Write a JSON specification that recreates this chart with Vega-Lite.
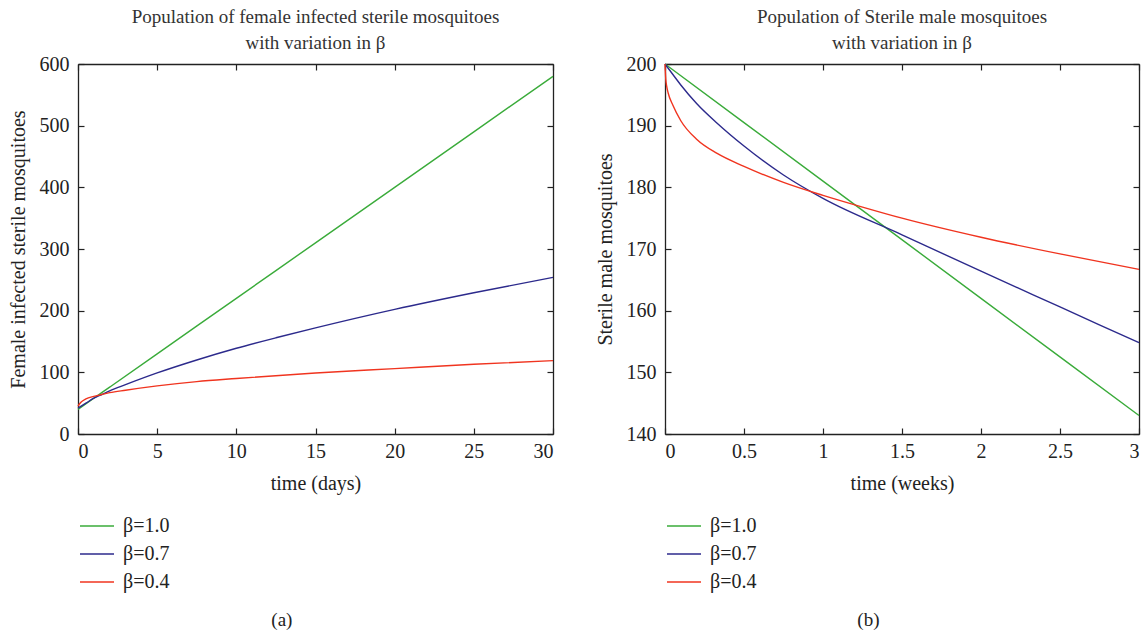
{
  "$schema": "https://vega.github.io/schema/vega-lite/v6.json",
  "background": "white",
  "padding": {"left": 8, "top": 8, "right": 5, "bottom": 5},
  "resolve": {"scale": {"color": "independent"}, "legend": {"color": "independent"}},
  "config": {
    "view": {"stroke": null},
    "font": "Liberation Serif",
    "axis": {
      "grid": false,
      "domainColor": "#222",
      "domainWidth": 1.3,
      "tickColor": "#222",
      "tickWidth": 1.2,
      "tickSize": -6,
      "labelFont": "Liberation Serif",
      "labelFontSize": 20,
      "labelColor": "#222",
      "titleFont": "Liberation Serif",
      "titleFontSize": 20,
      "titleFontWeight": "normal",
      "titleColor": "#222"
    },
    "legend": {
      "labelFont": "Liberation Serif",
      "labelFontSize": 20,
      "labelColor": "#222",
      "symbolType": "stroke",
      "symbolSize": 1156,
      "symbolStrokeWidth": 1.5,
      "labelOffset": 8,
      "rowPadding": -5,
      "padding": 0
    },
    "title": {
      "font": "Liberation Serif",
      "fontSize": 19,
      "fontWeight": "normal",
      "color": "#333",
      "lineHeight": 26
    },
    "concat": {"spacing": 39}
  },
  "datasets": {
    "a": [
      {"t": 0, "v": 40, "beta": "β=1.0"},
      {"t": 1, "v": 58, "beta": "β=1.0"},
      {"t": 2, "v": 76, "beta": "β=1.0"},
      {"t": 5, "v": 130, "beta": "β=1.0"},
      {"t": 10, "v": 220, "beta": "β=1.0"},
      {"t": 15, "v": 310, "beta": "β=1.0"},
      {"t": 20, "v": 400, "beta": "β=1.0"},
      {"t": 25, "v": 490, "beta": "β=1.0"},
      {"t": 30, "v": 580, "beta": "β=1.0"},
      {"t": 0, "v": 42, "beta": "β=0.7"},
      {"t": 0.5, "v": 50, "beta": "β=0.7"},
      {"t": 1, "v": 58, "beta": "β=0.7"},
      {"t": 1.5, "v": 64, "beta": "β=0.7"},
      {"t": 2, "v": 70, "beta": "β=0.7"},
      {"t": 3, "v": 80, "beta": "β=0.7"},
      {"t": 5, "v": 99, "beta": "β=0.7"},
      {"t": 7.5, "v": 120, "beta": "β=0.7"},
      {"t": 10, "v": 139, "beta": "β=0.7"},
      {"t": 12.5, "v": 156, "beta": "β=0.7"},
      {"t": 15, "v": 172, "beta": "β=0.7"},
      {"t": 20, "v": 202, "beta": "β=0.7"},
      {"t": 25, "v": 229, "beta": "β=0.7"},
      {"t": 30, "v": 254, "beta": "β=0.7"},
      {"t": 0, "v": 45, "beta": "β=0.4"},
      {"t": 0.1, "v": 49, "beta": "β=0.4"},
      {"t": 0.2, "v": 52, "beta": "β=0.4"},
      {"t": 0.5, "v": 57, "beta": "β=0.4"},
      {"t": 1, "v": 61, "beta": "β=0.4"},
      {"t": 1.5, "v": 64, "beta": "β=0.4"},
      {"t": 2, "v": 67, "beta": "β=0.4"},
      {"t": 3, "v": 71, "beta": "β=0.4"},
      {"t": 5, "v": 78, "beta": "β=0.4"},
      {"t": 7.5, "v": 85, "beta": "β=0.4"},
      {"t": 10, "v": 90, "beta": "β=0.4"},
      {"t": 15, "v": 99, "beta": "β=0.4"},
      {"t": 20, "v": 106, "beta": "β=0.4"},
      {"t": 25, "v": 113, "beta": "β=0.4"},
      {"t": 30, "v": 119, "beta": "β=0.4"}
    ],
    "b": [
      {"t": 0, "v": 200, "beta": "β=1.0"},
      {"t": 1, "v": 181, "beta": "β=1.0"},
      {"t": 2, "v": 162, "beta": "β=1.0"},
      {"t": 3, "v": 143, "beta": "β=1.0"},
      {"t": 0, "v": 200, "beta": "β=0.7"},
      {"t": 0.05, "v": 198.3, "beta": "β=0.7"},
      {"t": 0.1, "v": 196.6, "beta": "β=0.7"},
      {"t": 0.2, "v": 193.6, "beta": "β=0.7"},
      {"t": 0.33, "v": 190.4, "beta": "β=0.7"},
      {"t": 0.5, "v": 186.7, "beta": "β=0.7"},
      {"t": 0.75, "v": 182, "beta": "β=0.7"},
      {"t": 1, "v": 178.2, "beta": "β=0.7"},
      {"t": 1.5, "v": 172.3, "beta": "β=0.7"},
      {"t": 2, "v": 166.4, "beta": "β=0.7"},
      {"t": 2.5, "v": 160.6, "beta": "β=0.7"},
      {"t": 3, "v": 154.8, "beta": "β=0.7"},
      {"t": 0, "v": 200, "beta": "β=0.4"},
      {"t": 0.005, "v": 197.5, "beta": "β=0.4"},
      {"t": 0.01, "v": 196.5, "beta": "β=0.4"},
      {"t": 0.02, "v": 195.3, "beta": "β=0.4"},
      {"t": 0.05, "v": 193.3, "beta": "β=0.4"},
      {"t": 0.1, "v": 190.8, "beta": "β=0.4"},
      {"t": 0.2, "v": 187.8, "beta": "β=0.4"},
      {"t": 0.33, "v": 185.5, "beta": "β=0.4"},
      {"t": 0.5, "v": 183.4, "beta": "β=0.4"},
      {"t": 0.75, "v": 180.8, "beta": "β=0.4"},
      {"t": 1, "v": 178.7, "beta": "β=0.4"},
      {"t": 1.25, "v": 176.8, "beta": "β=0.4"},
      {"t": 1.5, "v": 175, "beta": "β=0.4"},
      {"t": 2, "v": 171.9, "beta": "β=0.4"},
      {"t": 2.5, "v": 169.2, "beta": "β=0.4"},
      {"t": 3, "v": 166.7, "beta": "β=0.4"}
    ]
  },
  "hconcat": [
    {
      "title": {"text": "(a)", "orient": "bottom", "anchor": "middle", "frame": "bounds", "offset": 19, "fontSize": 19, "color": "#222"},
      "vconcat": [
        {
          "width": 475,
          "height": 370,
          "title": {"text": ["Population of female infected sterile mosquitoes", "with variation in β"], "anchor": "middle", "offset": 1},
          "data": {"name": "a"},
          "resolve": {"axis": {"x": "independent", "y": "independent"}},
          "layer": [
            {
              "mark": {"type": "line", "strokeWidth": 1.4, "interpolate": "monotone"},
              "encoding": {
                "x": {"field": "t", "type": "quantitative", "scale": {"domain": [0, 30], "nice": false}, "axis": {"orient": "bottom", "values": [0, 5, 10, 15, 20, 25, 30], "title": "time (days)", "labelPadding": 13, "titlePadding": 12}},
                "y": {"field": "v", "type": "quantitative", "scale": {"domain": [0, 600], "nice": false}, "axis": {"orient": "left", "values": [0, 100, 200, 300, 400, 500, 600], "title": "Female infected sterile mosquitoes", "labelPadding": 15, "titlePadding": 11}},
                "color": {"field": "beta", "type": "nominal", "scale": {"domain": ["β=1.0", "β=0.7", "β=0.4"], "range": ["#3aab3a", "#2c2a8c", "#f0341f"]}, "legend": {"title": null, "orient": "none", "legendX": 1, "legendY": 444, "direction": "vertical"}}
              }
            },
            {
              "mark": {"type": "line", "opacity": 0},
              "encoding": {
                "x": {"field": "t", "type": "quantitative", "axis": {"orient": "top", "values": [0, 5, 10, 15, 20, 25, 30], "labels": false, "title": null}},
                "y": {"field": "v", "type": "quantitative", "axis": {"orient": "right", "values": [0, 100, 200, 300, 400, 500, 600], "labels": false, "title": null}},
                "detail": {"field": "beta"}
              }
            }
          ]
        }
      ]
    },
    {
      "title": {"text": "(b)", "orient": "bottom", "anchor": "middle", "frame": "bounds", "offset": 19, "fontSize": 19, "color": "#222"},
      "vconcat": [
        {
          "width": 474,
          "height": 370,
          "title": {"text": ["Population of Sterile male mosquitoes", "with variation in β"], "anchor": "middle", "offset": 1},
          "data": {"name": "b"},
          "resolve": {"axis": {"x": "independent", "y": "independent"}},
          "layer": [
            {
              "mark": {"type": "line", "strokeWidth": 1.4, "interpolate": "monotone"},
              "encoding": {
                "x": {"field": "t", "type": "quantitative", "scale": {"domain": [0, 3], "nice": false}, "axis": {"orient": "bottom", "values": [0, 0.5, 1, 1.5, 2, 2.5, 3], "format": "~g", "title": "time (weeks)", "labelPadding": 13, "titlePadding": 12}},
                "y": {"field": "v", "type": "quantitative", "scale": {"domain": [140, 200], "nice": false, "zero": false}, "axis": {"orient": "left", "values": [140, 150, 160, 170, 180, 190, 200], "title": "Sterile male mosquitoes", "labelPadding": 15, "titlePadding": 11}},
                "color": {"field": "beta", "type": "nominal", "scale": {"domain": ["β=1.0", "β=0.7", "β=0.4"], "range": ["#3aab3a", "#2c2a8c", "#f0341f"]}, "legend": {"title": null, "orient": "none", "legendX": 1, "legendY": 444, "direction": "vertical"}}
              }
            },
            {
              "mark": {"type": "line", "opacity": 0},
              "encoding": {
                "x": {"field": "t", "type": "quantitative", "axis": {"orient": "top", "values": [0, 0.5, 1, 1.5, 2, 2.5, 3], "labels": false, "title": null}},
                "y": {"field": "v", "type": "quantitative", "axis": {"orient": "right", "values": [140, 150, 160, 170, 180, 190, 200], "labels": false, "title": null}},
                "detail": {"field": "beta"}
              }
            }
          ]
        }
      ]
    }
  ]
}
